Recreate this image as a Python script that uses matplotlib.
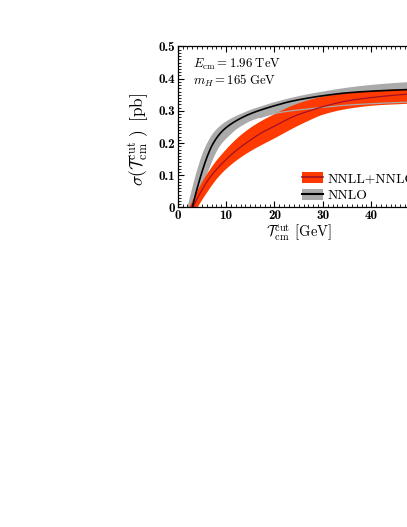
import numpy as np
import matplotlib
matplotlib.use("Agg")
import matplotlib.pyplot as plt
from matplotlib.patches import Patch
from matplotlib.lines import Line2D
from matplotlib.legend_handler import HandlerTuple
from matplotlib.ticker import MultipleLocator, FuncFormatter

plt.rcParams['mathtext.fontset'] = 'cm'
plt.rcParams['font.family'] = ['cmr10', 'DejaVu Serif']
plt.rcParams['axes.unicode_minus'] = False

# NNLO (fixed order): central curve and band edges
nnlo_x = [3.0, 3.5, 4.0, 4.8, 5.5, 6.2, 7.0, 8.0, 9.0, 10, 11.5, 13.4, 15, 17, 20, 23.5, 27, 30, 35, 41, 47.4, 50]
nnlo_c = [0.0, 0.03, 0.058, 0.10, 0.133, 0.162, 0.19, 0.215, 0.234, 0.248, 0.264, 0.280, 0.291, 0.302, 0.316, 0.330, 0.340, 0.347, 0.356, 0.362, 0.366, 0.368]

nnlo_up_x = [2.0, 2.5, 3.0, 3.7, 4.4, 5.2, 6.1, 7.1, 8.3, 10, 11.5, 13.4, 15, 17, 20, 23.3, 27, 30, 35, 41, 47.4, 50]
nnlo_up = [0.0, 0.03, 0.06, 0.10, 0.135, 0.17, 0.20, 0.226, 0.247, 0.267, 0.280, 0.293, 0.303, 0.313, 0.327, 0.340, 0.352, 0.360, 0.372, 0.382, 0.389, 0.391]

nnlo_lo_x = [3.9, 4.6, 5.3, 6.0, 6.9, 7.7, 8.6, 9.6, 10.6, 12, 13.4, 15, 17, 19, 21.5, 24.5, 30, 35, 41, 47.4, 50]
nnlo_lo = [0.0, 0.04, 0.072, 0.10, 0.135, 0.163, 0.188, 0.207, 0.222, 0.241, 0.255, 0.268, 0.279, 0.288, 0.296, 0.302, 0.311, 0.318, 0.323, 0.327, 0.328]

# NNLL+NNLO (resummed): central curve and band edges
res_x = [3.1, 4, 5, 6, 7, 8, 9, 10, 12, 14.5, 17, 20.3, 24, 27, 30, 35, 41, 47.4, 50]
res_c = [0.0, 0.027, 0.054, 0.079, 0.10, 0.118, 0.134, 0.149, 0.176, 0.204, 0.229, 0.255, 0.283, 0.299, 0.313, 0.331, 0.343, 0.352, 0.355]

res_up_x = [2.4, 3.3, 4.3, 5.5, 6.7, 8, 9, 10, 11, 13, 15, 17, 20.3, 24, 27, 30, 35, 41, 47.4, 50]
res_up = [0.0, 0.028, 0.058, 0.090, 0.118, 0.145, 0.163, 0.180, 0.196, 0.224, 0.247, 0.266, 0.292, 0.318, 0.333, 0.344, 0.355, 0.363, 0.368, 0.370]

res_lo_x = [4.1, 5, 6, 7, 8, 9, 10, 12, 14, 16, 18, 20.3, 24, 27, 30, 35, 41, 47.4, 50]
res_lo = [0.0, 0.022, 0.045, 0.067, 0.087, 0.104, 0.119, 0.144, 0.165, 0.183, 0.199, 0.217, 0.247, 0.269, 0.288, 0.306, 0.317, 0.322, 0.324]

legend_labels = ["NNLL+NNLO", "NNLO"]
xlim = (0, 50)
ylim = (0, 0.5)


def pchip(xs, ys, xq):
    xs = np.asarray(xs, float); ys = np.asarray(ys, float)
    h = np.diff(xs); d = np.diff(ys) / h
    n = len(xs)
    m = np.zeros(n)
    for k in range(1, n - 1):
        if d[k - 1] * d[k] > 0:
            w1 = 2 * h[k] + h[k - 1]; w2 = h[k] + 2 * h[k - 1]
            m[k] = (w1 + w2) / (w1 / d[k - 1] + w2 / d[k])
    m[0] = d[0]; m[-1] = d[-1]
    idx = np.clip(np.searchsorted(xs, xq) - 1, 0, n - 2)
    t = (xq - xs[idx]) / h[idx]
    h00 = 2 * t**3 - 3 * t**2 + 1; h10 = t**3 - 2 * t**2 + t
    h01 = -2 * t**3 + 3 * t**2; h11 = t**3 - t**2
    return h00 * ys[idx] + h10 * h[idx] * m[idx] + h01 * ys[idx + 1] + h11 * h[idx] * m[idx + 1]


def curve(xs, ys):
    g = np.linspace(xs[0], xs[-1], 500)
    return g, pchip(xs, ys, g)


fig = plt.figure(figsize=(4.07, 5.27), dpi=100)
ax = fig.add_axes([0.4366, 0.6063, 0.5946, 0.3055])

gray = '#aaaaaa'
red = '#ff3a00'
darkred = '#a0102a'

g_up_x, g_up = curve(nnlo_up_x, nnlo_up)
g_lo_x, g_lo = curve(nnlo_lo_x, nnlo_lo)
ax.fill(np.concatenate([g_up_x, g_lo_x[::-1]]), np.concatenate([g_up, g_lo[::-1]]),
        color=gray, lw=0, zorder=1)

r_up_x, r_up = curve(res_up_x, res_up)
r_lo_x, r_lo = curve(res_lo_x, res_lo)
ax.fill(np.concatenate([r_up_x, r_lo_x[::-1]]), np.concatenate([r_up, r_lo[::-1]]),
        color=red, lw=0, zorder=2)

m = g_lo_x >= 17
ax.plot(g_lo_x[m], g_lo[m], color=gray, lw=0.9, zorder=3)

cx, cy = curve(res_x, res_c)
ax.plot(cx, cy, color=darkred, lw=0.9, zorder=4)
bx, by = curve(nnlo_x, nnlo_c)
ax.plot(bx, by, color='black', lw=1.2, zorder=5)

ax.set_xlim(*xlim)
ax.set_ylim(*ylim)
ax.xaxis.set_major_locator(MultipleLocator(10))
ax.xaxis.set_minor_locator(MultipleLocator(1))
ax.yaxis.set_major_locator(MultipleLocator(0.1))
ax.yaxis.set_minor_locator(MultipleLocator(0.01))
ax.tick_params(which='both', direction='in', top=True, right=True)
ax.tick_params(which='major', length=4.5, width=0.8, labelsize=9.5, pad=2)
ax.tick_params(which='minor', length=2.2, width=0.6)
for sp in ax.spines.values():
    sp.set_linewidth(0.9)

ax.xaxis.set_major_formatter(FuncFormatter(lambda v, p: f"{v:g}"))
ax.yaxis.set_major_formatter(FuncFormatter(lambda v, p: f"{v:g}"))
for lab in ax.get_xticklabels() + ax.get_yticklabels():
    lab.set_family('cmb10')

ax.set_xlabel(r'$\mathcal{T}_{\rm cm}^{\rm cut}$ [GeV]', fontsize=10.5, labelpad=0.5)
ax.set_ylabel(r'$\sigma(\mathcal{T}_{\rm cm}^{\rm cut}\;)\;\;$[pb]', fontsize=12.5)
ax.yaxis.set_label_coords(-0.112, 0.42)

ax.text(0.062, 0.935, r'$E_{\rm cm} = 1.96\;{\rm TeV}$', transform=ax.transAxes, fontsize=9.2, va='top')
ax.text(0.062, 0.835, r'$m_H = 165\;{\rm GeV}$', transform=ax.transAxes, fontsize=9.2, va='top')

h1 = (Patch(facecolor=red, edgecolor='none'), Line2D([], [], color=darkred, lw=1.2))
h2 = (Patch(facecolor=gray, edgecolor='none'), Line2D([], [], color='black', lw=1.5))
leg = ax.legend([h1, h2], legend_labels, handler_map={tuple: HandlerTuple(ndivide=1, pad=0)},
                loc='lower left', bbox_to_anchor=(0.514, 0.033), frameon=False, fontsize=9.8,
                handlelength=1.55, handleheight=0.8, handletextpad=0.3, labelspacing=0.3,
                borderpad=0, borderaxespad=0)

fig.savefig('out.png', dpi=100)
